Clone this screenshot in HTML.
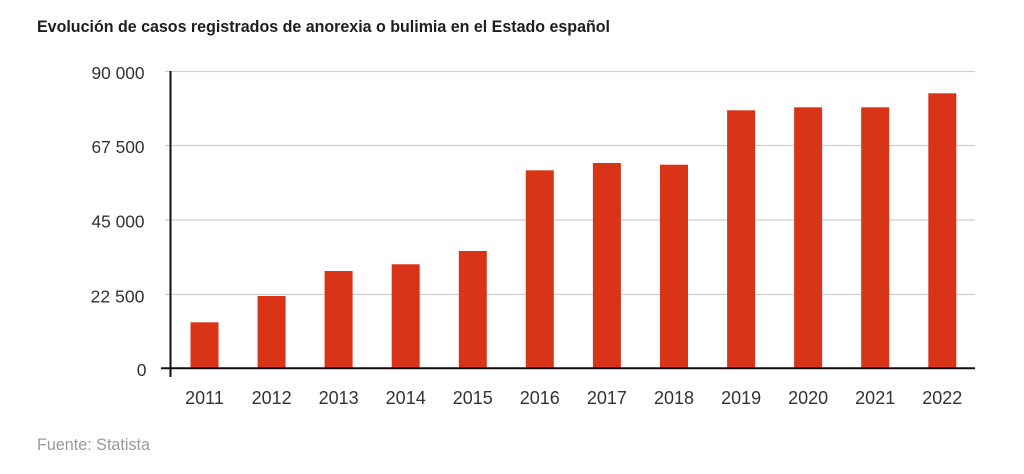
<!DOCTYPE html>
<html><head><meta charset="utf-8"><style>
html,body{margin:0;padding:0;background:#fff;}
svg{display:block;}
text{font-family:"Liberation Sans",sans-serif;}
</style></head><body>
<svg width="1024" height="474" viewBox="0 0 1024 474" xmlns="http://www.w3.org/2000/svg">
<rect width="1024" height="474" fill="#fff"/>
<text x="37" y="32" font-size="17" font-weight="bold" fill="#1e1e1e" textLength="573" lengthAdjust="spacingAndGlyphs">Evolución de casos registrados de anorexia o bulimia en el Estado español</text>
<g stroke="#cfcfcf" stroke-width="1.2">
<line x1="165" y1="71.5" x2="975" y2="71.5"/>
<line x1="165" y1="145.5" x2="975" y2="145.5"/>
<line x1="165" y1="220" x2="975" y2="220"/>
<line x1="165" y1="294.5" x2="975" y2="294.5"/>
</g>
<g fill="#333" font-size="17.5" text-anchor="end">
<text x="144.5" y="79" textLength="53" lengthAdjust="spacingAndGlyphs">90 000</text>
<text x="144.5" y="153" textLength="53" lengthAdjust="spacingAndGlyphs">67 500</text>
<text x="144.5" y="227.5" textLength="53" lengthAdjust="spacingAndGlyphs">45 000</text>
<text x="144.5" y="302.5" textLength="54" lengthAdjust="spacingAndGlyphs">22 500</text>
<text x="146.5" y="376">0</text>
</g>
<g fill="#d93418">
<rect x="190.5" y="322.3" width="28" height="45.7"/>
<rect x="257.6" y="296" width="28" height="72"/>
<rect x="324.6" y="271" width="28" height="97"/>
<rect x="391.7" y="264.3" width="28" height="103.7"/>
<rect x="458.8" y="251" width="28" height="117"/>
<rect x="525.8" y="170.3" width="28" height="197.7"/>
<rect x="592.9" y="163" width="28" height="205"/>
<rect x="660" y="164.7" width="28" height="203.3"/>
<rect x="727.1" y="110.3" width="28" height="257.7"/>
<rect x="794.1" y="107.3" width="28" height="260.7"/>
<rect x="861.2" y="107.3" width="28" height="260.7"/>
<rect x="928.3" y="93.3" width="28" height="274.7"/>
</g>
<line x1="170.5" y1="71" x2="170.5" y2="377" stroke="#111" stroke-width="2"/>
<line x1="161" y1="368.3" x2="975" y2="368.3" stroke="#111" stroke-width="2"/>
<g fill="#333" font-size="18" text-anchor="middle">
<text x="204.5" y="404">2011</text>
<text x="271.6" y="404">2012</text>
<text x="338.6" y="404">2013</text>
<text x="405.7" y="404">2014</text>
<text x="472.8" y="404">2015</text>
<text x="539.8" y="404">2016</text>
<text x="606.9" y="404">2017</text>
<text x="674" y="404">2018</text>
<text x="741.1" y="404">2019</text>
<text x="808.1" y="404">2020</text>
<text x="875.2" y="404">2021</text>
<text x="942.3" y="404">2022</text>
</g>
<text x="37" y="450" font-size="16.5" fill="#9a9a9a" textLength="113" lengthAdjust="spacingAndGlyphs">Fuente: Statista</text>
</svg>
</body></html>
